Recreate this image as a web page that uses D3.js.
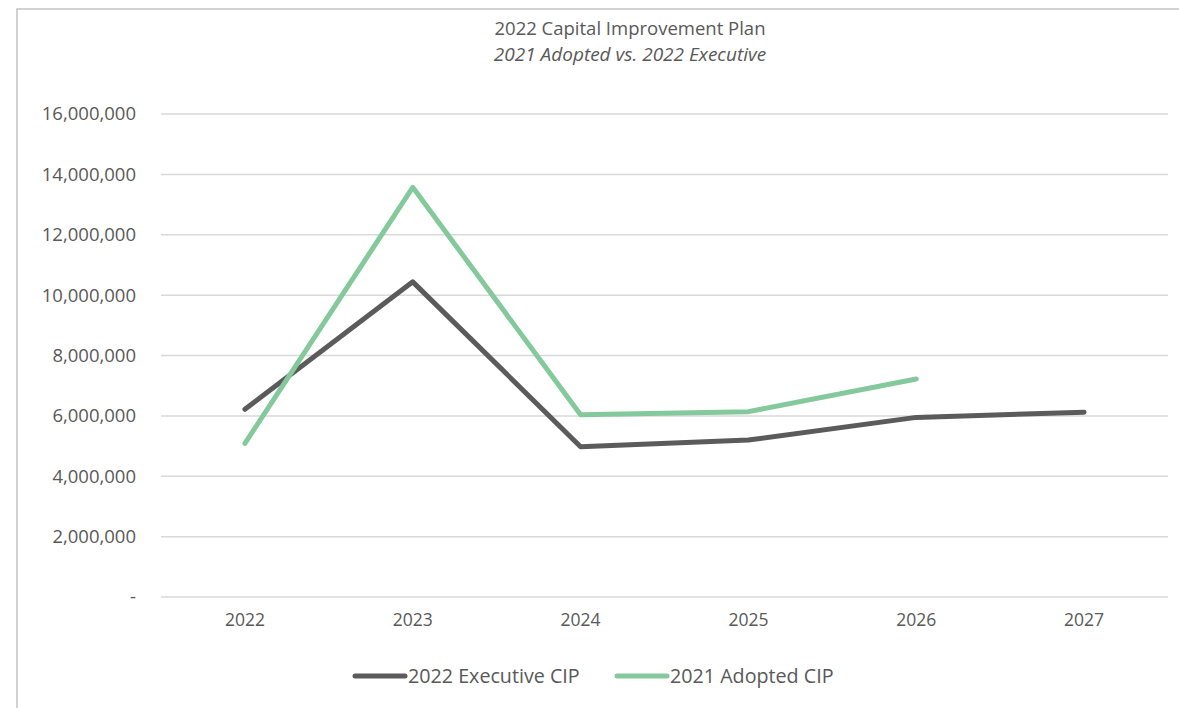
<!DOCTYPE html>
<html><head><meta charset="utf-8">
<script src="https://cdn.jsdelivr.net/npm/d3@7"></script>
<style>
html,body{margin:0;padding:0;background:#fff;}
svg text{font-family:"Open Sans","Noto Sans",sans-serif;fill:#595959;}
</style></head>
<body>
<svg id="chart" width="1179" height="708"></svg>
<script>
const categories = ["2022","2023","2024","2025","2026","2027"];
const executiveCIP = [6220000, 10440000, 4980000, 5200000, 5950000, 6120000];
const adoptedCIP = [5090000, 13570000, 6040000, 6140000, 7220000, null];
const yTicks = [0, 2000000, 4000000, 6000000, 8000000, 10000000, 12000000, 14000000, 16000000];
const seriesNames = ["2022 Executive CIP", "2021 Adopted CIP"];
const seriesColors = ["#5b5b5b", "#84c99b"];
const titleText = "2022 Capital Improvement Plan";
const subtitleText = "2021 Adopted vs. 2022 Executive";

const svg = d3.select("#chart");
const W = 1179, H = 708;
const plot = {left:161, right:1168, top:114, bottom:597};

// chart frame (cut off at right and bottom)
svg.append("rect").attr("x",17).attr("y",9).attr("width",W+20).attr("height",H+20)
  .attr("fill","#fff").attr("stroke","#c4c4c4").attr("stroke-width",1.5);

const x = d3.scaleBand().domain(categories).range([plot.left, plot.right]);
const y = d3.scaleLinear().domain([0,16000000]).range([plot.bottom, plot.top]);

// gridlines
svg.append("g").selectAll("line").data(yTicks).join("line")
  .attr("x1",plot.left).attr("x2",plot.right)
  .attr("y1",d=>y(d)).attr("y2",d=>y(d))
  .attr("stroke","#d9d9d9").attr("stroke-width",1.5);

// y axis
const fmt = d3.format(",");
const yAxis = d3.axisLeft(y).tickValues(yTicks).tickSize(0).tickPadding(25)
  .tickFormat(d => d===0 ? "-" : fmt(d));
const gy = svg.append("g").attr("transform",`translate(${plot.left},0)`).call(yAxis);
gy.select(".domain").remove();
gy.selectAll("text").style("font-size","18.5px").attr("fill","#595959");

// x axis
const xAxis = d3.axisBottom(x).tickSize(0).tickPadding(17);
const gx = svg.append("g").attr("transform",`translate(0,${plot.bottom})`).call(xAxis);
gx.select(".domain").remove();
gx.selectAll("text").style("font-size","17.5px").attr("fill","#595959");

// lines
const line = d3.line().defined(d=>d.v!==null)
  .x(d=>x(d.c)+x.bandwidth()/2).y(d=>y(d.v));
const series = [executiveCIP, adoptedCIP];
series.forEach((vals,i)=>{
  svg.append("path")
    .datum(categories.map((c,j)=>({c, v: vals[j]})))
    .attr("d",line).attr("fill","none")
    .attr("stroke",seriesColors[i]).attr("stroke-width",5)
    .attr("stroke-linejoin","round").attr("stroke-linecap","round");
});

// title
svg.append("text").attr("x",630).attr("y",35).attr("text-anchor","middle")
  .style("font-size","18.5px").text(titleText);
svg.append("text").attr("x",630).attr("y",61).attr("text-anchor","middle")
  .style("font-size","19px").style("font-style","italic").text(subtitleText);

// legend
const legendX = [355, 617];
seriesNames.forEach((n,i)=>{
  const g = svg.append("g").attr("transform",`translate(${legendX[i]},676)`);
  g.append("line").attr("x1",0).attr("x2",50).attr("y1",0).attr("y2",0)
    .attr("stroke",seriesColors[i]).attr("stroke-width",5).attr("stroke-linecap","round");
  g.append("text").attr("x",53).attr("y",0).attr("dy","0.35em")
    .style("font-size","19.7px").text(n);
});
</script>
</body></html>
